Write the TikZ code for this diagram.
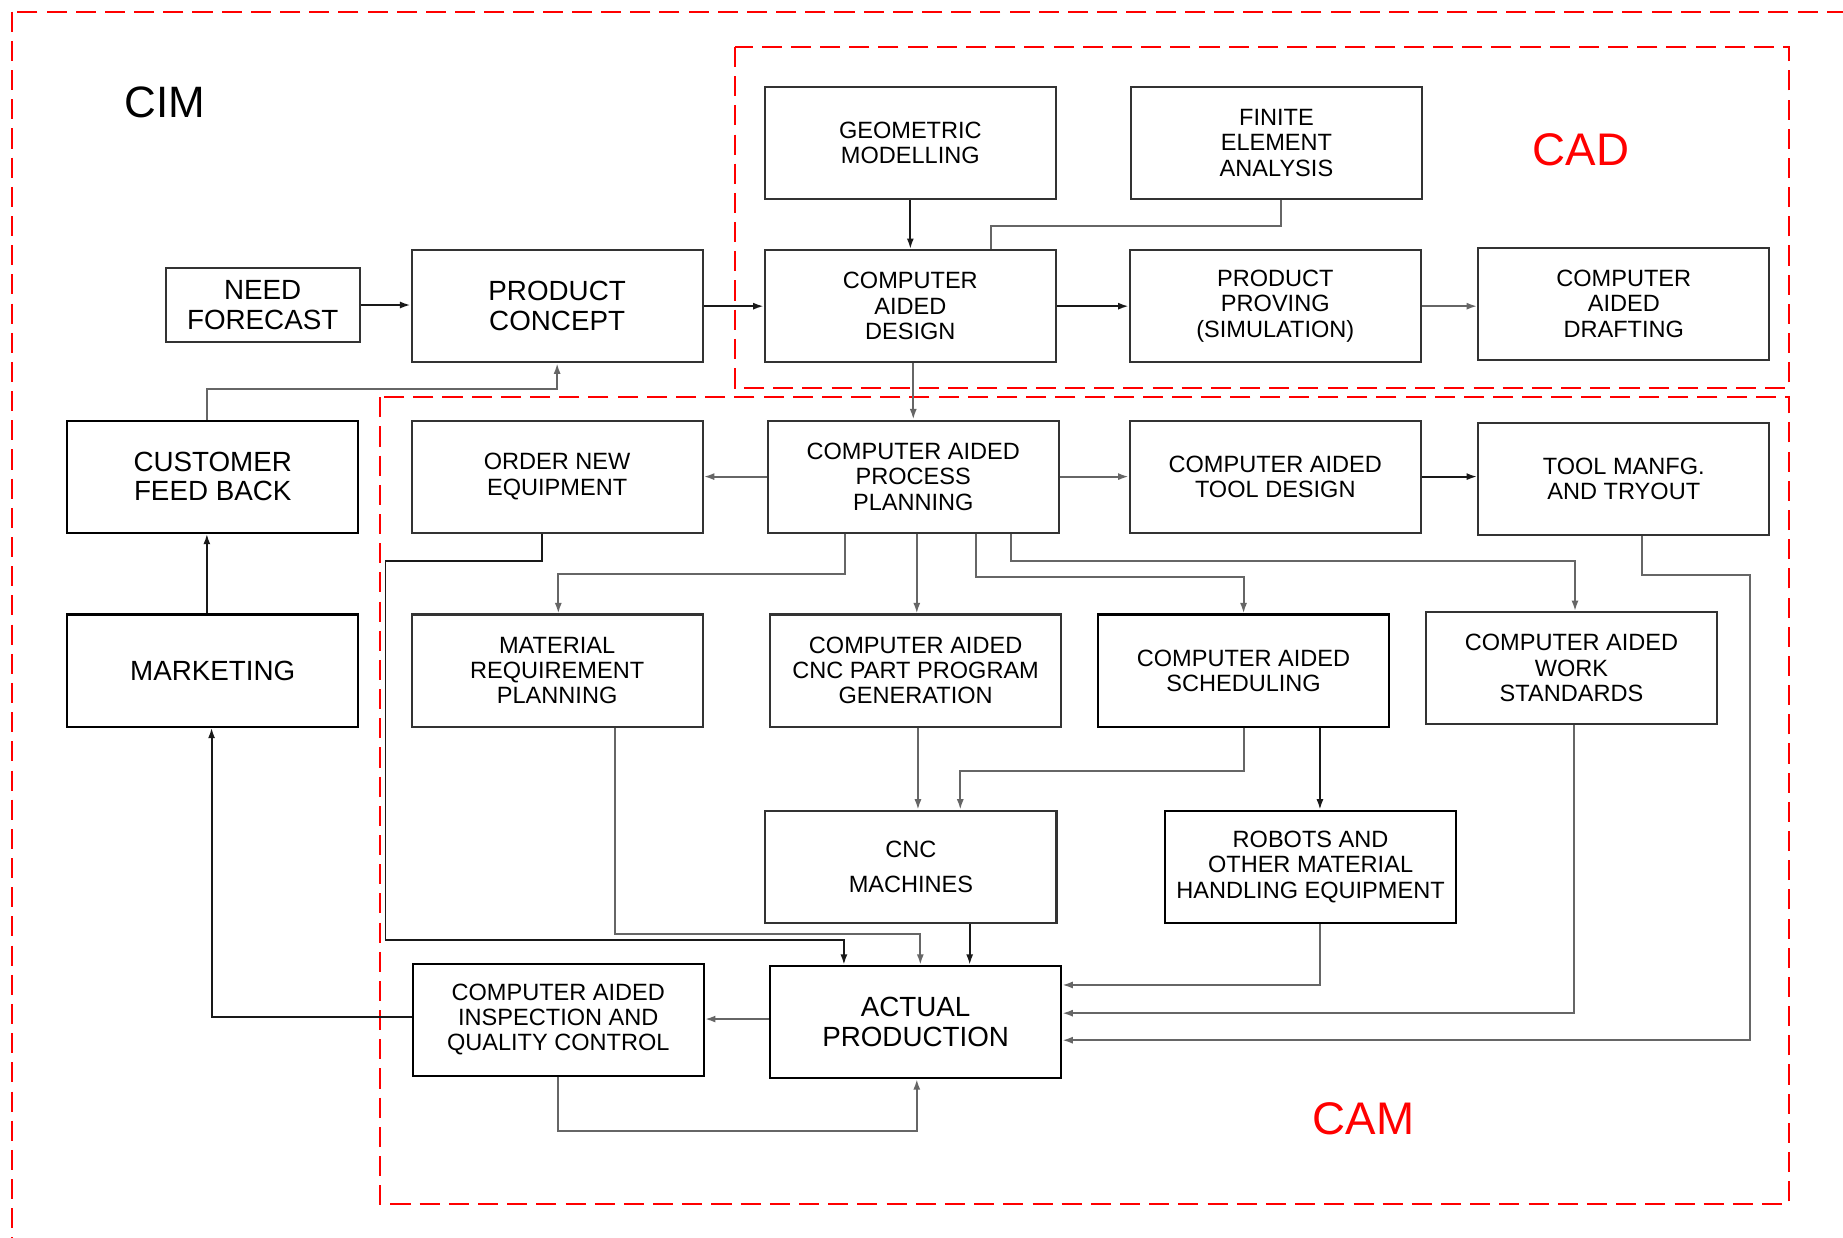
\documentclass[tikz,border=0pt]{standalone}
\usepackage{fontspec}
\setmainfont{Liberation Sans}
\usepackage{tikz}
\usetikzlibrary{arrows.meta}

\tikzset{
  blk/.style={draw=black!80, line width=0.6pt, minimum width=29.1mm, minimum height=11.2mm,
    inner sep=0pt, align=center, font=\fontsize{6.7}{7.2}\selectfont},
  big/.style={font=\fontsize{7.9}{8.4}\selectfont},
  wire/.style={black!60, line width=0.55pt, -{Latex[length=3pt,width=2pt]}},
  wireb/.style={wire, black!90},
  zone/.style={red, line width=0.6pt, dash pattern=on 5.7pt off 2.6pt},
  zonelbl/.style={red, font=\fontsize{13}{15}\selectfont},
}

\begin{document}
\begin{tikzpicture}[x=0.1175mm, y=-0.1175mm]
  \clip (0,0) rectangle (1568,1053);
  \fill[white] (0,0) rectangle (1568,1053);

  % CIM, CAD and CAM zones
  \draw[zone] (10,10) rectangle (1600,1100);
  \draw[zone] (625,40) rectangle (1522,330);
  \draw[zone] (323,338) rectangle (1522,1024);
  \node[font=\fontsize{12.5}{15}\selectfont] (cim) at (140,87) {CIM};
  \node[zonelbl] (cadlbl) at (1345,127) {CAD};
  \node[zonelbl] (camlbl) at (1160,952) {CAM};

  % first row
  \node[blk, big, minimum width=19.4mm, minimum height=7.4mm] (nf) at (223.5,259.5) {NEED\\FORECAST};
  \node[blk, big] (pc) at (474,260.5) {PRODUCT\\CONCEPT};
  \node[blk] (gm) at (774.5,121.5) {GEOMETRIC\\MODELLING};
  \node[blk] (fea) at (1086,121.5) {FINITE\\ELEMENT\\ANALYSIS};
  \node[blk] (cad) at (774.5,260.5) {COMPUTER\\AIDED\\DESIGN};
  \node[blk] (pp) at (1085,260.5) {PRODUCT\\PROVING\\(SIMULATION)};
  \node[blk] (cadr) at (1381.5,258.5) {COMPUTER\\AIDED\\DRAFTING};

  % process planning row
  \node[blk, big, draw=black] (cfb) at (181,405.5) {CUSTOMER\\FEED BACK};
  \node[blk] (one) at (474,405.5) {ORDER NEW\\EQUIPMENT};
  \node[blk] (capp) at (777,405.5) {COMPUTER AIDED\\PROCESS\\PLANNING};
  \node[blk] (catd) at (1085,405.5) {COMPUTER AIDED\\TOOL DESIGN};
  \node[blk] (tool) at (1381.5,407.5) {TOOL MANFG.\\AND TRYOUT};

  % planning row
  \node[blk, big, draw=black] (mkt) at (181,570.5) {MARKETING};
  \node[blk] (mrp) at (474,570.5) {MATERIAL\\REQUIREMENT\\PLANNING};
  \node[blk] (cnc) at (779,570.5) {COMPUTER AIDED\\CNC PART PROGRAM\\GENERATION};
  \node[blk, draw=black] (sch) at (1058,570.5) {COMPUTER AIDED\\SCHEDULING};
  \node[blk] (cws) at (1337,568.5) {COMPUTER AIDED\\WORK\\STANDARDS};

  % shop floor
  \node[blk] (mach) at (775,737.5) {CNC\\[2.7pt]MACHINES};
  \node[blk, draw=black] (rob) at (1115,737.5) {ROBOTS AND\\OTHER MATERIAL\\HANDLING EQUIPMENT};
  \node[blk, draw=black] (qc) at (475,867.5) {COMPUTER AIDED\\INSPECTION AND\\QUALITY CONTROL};
  \node[blk, big, draw=black] (ap) at (779,869.5) {ACTUAL\\PRODUCTION};

  % design side
  \draw[wireb] (nf.east) -- (nf.east -| pc.west);
  \draw[wireb] (pc.east) -- (cad.west);
  \draw[wireb] (gm.south) -- (cad.north);
  \draw[wire, -] (fea.south -| 1090,0) -- ++(0,22) -| (cad.north -| 843,0);
  \draw[wireb] (cad.east) -- (pp.west);
  \draw[wire] (pp.east) -- (pp.east -| cadr.west);
  \draw[wire] (cad.south -| 777,0) -- (capp.north);
  \draw[wire] (cfb.north -| 176,0) -- ++(0,-26) -| (pc.south);
  \draw[wireb] (mkt.north -| 176,0) -- (cfb.south -| 176,0);

  % out of process planning
  \draw[wire] (capp.west) -- (one.east);
  \draw[wire] (capp.east) -- (catd.west);
  \draw[wireb] (catd.east) -- (catd.east -| tool.west);
  \draw[wire] (capp.south -| 719,0) -- ++(0,34) -| (mrp.north -| 475,0);
  \draw[wire] (capp.south -| 780,0) -- (cnc.north -| 780,0);
  \draw[wire] (capp.south -| 830,0) -- ++(0,37) -| (sch.north);
  \draw[wire] (capp.south -| 860,0) -- ++(0,23) -| (cws.north -| 1340,0);

  % into the shop floor
  \draw[wire] (cnc.south -| 781,0) -- (mach.north -| 781,0);
  \draw[wire] (sch.south) -- ++(0,37) -| (mach.north -| 817,0);
  \draw[wireb] (sch.south -| 1123,0) -- (rob.north -| 1123,0);
  \draw[wireb] (mach.south -| 825,0) -- (ap.north -| 825,0);
  \draw[wireb] (one.south -| 461,0) -- ++(0,23) -| (328,800) -| (ap.north -| 718,0);
  \draw[wire] (mrp.south -| 523,0) |- (783,795) -- (ap.north -| 783,0);
  \draw[wire] (rob.south -| 1123,0) |- (ap.east |- 0,838);
  \draw[wire] (cws.south -| 1339,0) |- (ap.east |- 0,862);
  \draw[wire] (tool.south -| 1397,0) -- ++(0,33) -| (1489,885) -- (ap.east |- 0,885);

  % inspection and feedback
  \draw[wire] (ap.west |- 0,867) -- (qc.east |- 0,867);
  \draw[wire] (qc.south) -- ++(0,46) -| (ap.south -| 780,0);
  \draw[wireb] (qc.west |- 0,865) -| (mkt.south -| 180,0);
\end{tikzpicture}
\end{document}
